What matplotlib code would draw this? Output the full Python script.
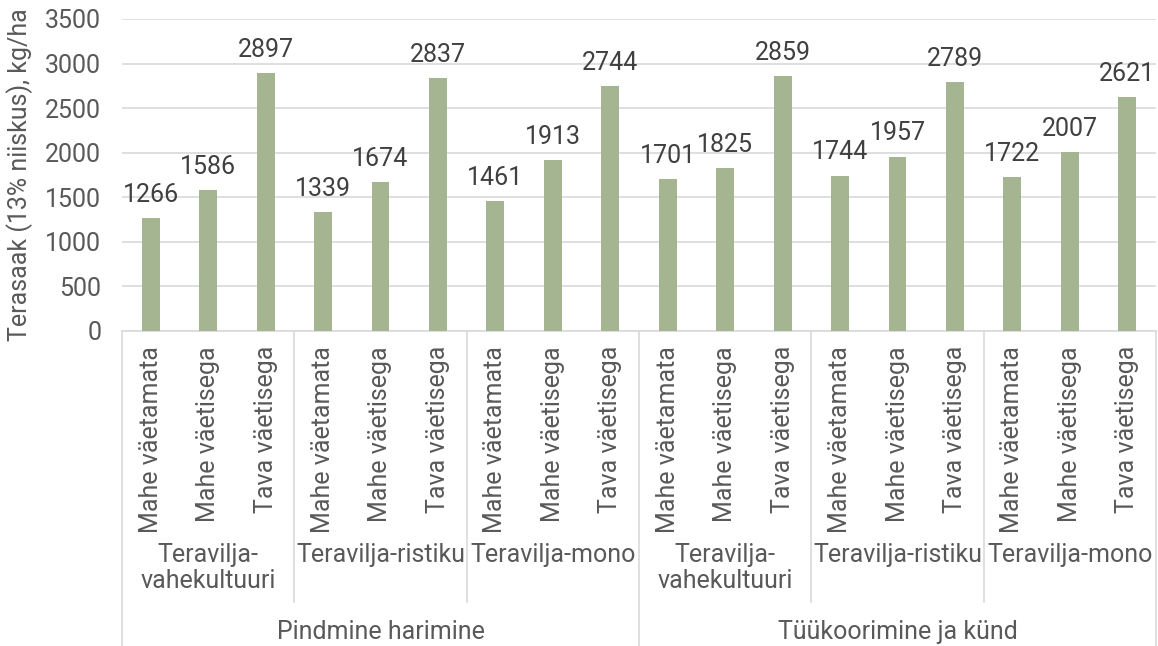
import matplotlib

matplotlib.use("Agg")
import matplotlib.pyplot as plt

plt.rcParams["font.family"] = ["Roboto", "DejaVu Sans"]

TREATMENTS = ["Mahe väetamata", "Mahe väetisega", "Tava väetisega"]
ROTATIONS = ["Teravilja-\nvahekultuuri", "Teravilja-ristiku", "Teravilja-mono"]
TILLAGE = ["Pindmine harimine", "Tüükoorimine ja künd"]

pindmine = [1266, 1586, 2897, 1339, 1674, 2837, 1461, 1913, 2744]
kynd = [1701, 1825, 2859, 1744, 1957, 2789, 1722, 2007, 2621]
values = pindmine + kynd

BAR_COLOR = "#A5B592"
GRID_COLOR = "#D9D9D9"
TEXT_COLOR = "#595959"
LABEL_COLOR = "#404040"
FS = 18

W, H = 1158, 646
fig = plt.figure(figsize=(W / 100, H / 100), dpi=100)

# plot area in pixels: left 122, right 1156, top 19 (3500), bottom 331 (0)
left, right, top, bottom = 122, 1156, 19, 331
ax = fig.add_axes([left / W, 1 - bottom / H, (right - left) / W, (bottom - top) / H])

n = len(values)
x = [i + 0.5 for i in range(n)]
bars = ax.bar(x, values, width=0.31, color=BAR_COLOR, zorder=3)

for b, v in zip(bars, values):
    ax.annotate(
        f"{v}",
        (b.get_x() + b.get_width() / 2, v),
        xytext=(0, 8),
        textcoords="offset points",
        ha="center",
        va="bottom",
        fontsize=FS,
        color=LABEL_COLOR,
    )

ax.set_xlim(0, n)
ax.set_ylim(0, 3500)
ax.set_yticks(range(0, 3501, 500))
ax.yaxis.grid(True, color=GRID_COLOR, linewidth=1.2, zorder=0)
ax.set_xticks([])
ax.tick_params(axis="y", length=0, pad=15, labelsize=FS, labelcolor=TEXT_COLOR)
for side in ["top", "right", "left"]:
    ax.spines[side].set_visible(False)
ax.spines["bottom"].set_color(GRID_COLOR)
ax.spines["bottom"].set_linewidth(1.2)

fig.text(
    20 / W,
    1 - 175 / H,
    "Terasaak (13% niiskus), kg/ha",
    rotation=90,
    ha="center",
    va="center",
    fontsize=FS,
    color=TEXT_COLOR,
)

# multi-level category axis
trans = ax.get_xaxis_transform()


def ay(px):
    return (bottom - px) / (bottom - top)


for i in range(0, n + 1, 3):
    if i % 9 == 0:
        y_end = H
    else:
        y_end = 602
    ax.plot([i, i], [ay(bottom), ay(y_end)], transform=trans, color=GRID_COLOR,
            linewidth=1.2, clip_on=False)

for i, xi in enumerate(x):
    ax.text(xi, ay(346), TREATMENTS[i % 3], transform=trans, rotation=90,
            ha="center", va="top", fontsize=FS, color=TEXT_COLOR)

for g in range(6):
    ax.text(g * 3 + 1.5, ay(543), ROTATIONS[g % 3], transform=trans,
            ha="center", va="top", fontsize=FS, color=TEXT_COLOR,
            linespacing=1.1, multialignment="center")

for t, name in enumerate(TILLAGE):
    ax.text(t * 9 + 4.5, ay(620), name, transform=trans,
            ha="center", va="top", fontsize=FS, color=TEXT_COLOR)

fig.savefig("out.png", dpi=100)
